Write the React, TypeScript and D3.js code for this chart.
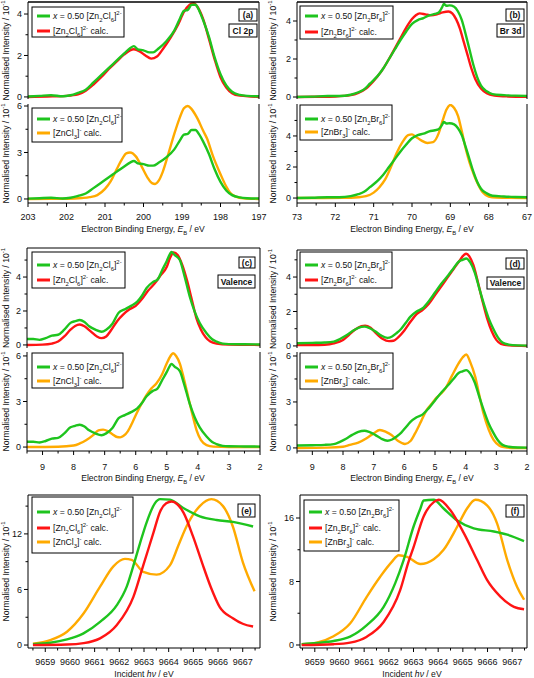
import React from 'react';
import * as d3 from 'd3';

type Pt = [number, number];
type Part = [string, string];

// ---------- DATA ----------
const clExp: Pt[] = [[203.0,0.02],[202.7,0.05],[202.4,0.08],[202.1,0.03],[201.9,0.08],[201.7,0.2],[201.5,0.35],[201.3,0.7],[201.1,1.05],[200.9,1.4],[200.7,1.75],[200.5,2.1],[200.35,2.35],[200.25,2.45],[200.15,2.3],[200.0,2.25],[199.85,2.15],[199.75,2.15],[199.6,2.35],[199.4,2.7],[199.2,3.2],[199.05,3.8],[198.95,4.15],[198.85,4.2],[198.75,4.45],[198.65,4.45],[198.55,4.15],[198.45,3.7],[198.3,2.9],[198.15,1.9],[198.0,1.1],[197.85,0.55],[197.7,0.25],[197.5,0.1],[197.3,0.05],[197.0,0.03]];
const clDimer: Pt[] = [[203,0],[202.5,0.02],[202,0.05],[201.7,0.12],[201.5,0.3],[201.3,0.6],[201.1,0.95],[200.9,1.35],[200.7,1.7],[200.5,2.05],[200.35,2.25],[200.25,2.3],[200.1,2.2],[199.95,2.0],[199.8,1.85],[199.65,1.95],[199.5,2.3],[199.3,2.85],[199.1,3.5],[198.95,4.1],[198.8,4.45],[198.7,4.52],[198.6,4.35],[198.45,3.75],[198.3,2.8],[198.15,1.8],[198.0,0.95],[197.85,0.45],[197.7,0.18],[197.5,0.06],[197.2,0.02],[197,0]];
const clMono: Pt[] = [[203,0],[202.0,0.01],[201.6,0.06],[201.4,0.12],[201.2,0.25],[201.0,0.65],[200.85,1.15],[200.7,1.9],[200.55,2.6],[200.45,2.95],[200.35,3.0],[200.2,2.75],[200.05,2.1],[199.9,1.4],[199.78,1.02],[199.7,0.97],[199.6,1.2],[199.5,1.75],[199.35,2.95],[199.2,4.2],[199.05,5.3],[198.95,5.85],[198.85,6.0],[198.75,5.8],[198.6,5.2],[198.45,4.4],[198.35,3.9],[198.2,2.8],[198.0,1.6],[197.85,0.8],[197.75,0.4],[197.6,0.15],[197.4,0.04],[197,0]];

const brExp: Pt[] = [[73,0.0],[72.6,0.02],[72.2,0.05],[71.9,0.05],[71.6,0.12],[71.4,0.25],[71.25,0.4],[71.1,0.7],[70.9,1.1],[70.75,1.5],[70.6,2.0],[70.45,2.5],[70.3,3.0],[70.15,3.45],[70.0,3.85],[69.85,4.05],[69.7,4.15],[69.55,4.3],[69.4,4.37],[69.3,4.45],[69.22,4.7],[69.17,4.9],[69.1,4.8],[69.02,4.82],[68.9,4.75],[68.8,4.5],[68.7,4.05],[68.6,3.3],[68.5,2.5],[68.4,1.7],[68.3,1.05],[68.2,0.6],[68.05,0.3],[67.9,0.15],[67.6,0.1],[67.3,0.07],[67,0.05]];
const brDimer: Pt[] = [[73,0],[72.5,0.01],[72,0.03],[71.6,0.1],[71.4,0.22],[71.2,0.45],[71.0,0.85],[70.8,1.35],[70.6,2.0],[70.45,2.55],[70.3,3.1],[70.15,3.65],[70.0,4.1],[69.9,4.3],[69.8,4.4],[69.65,4.35],[69.5,4.3],[69.35,4.35],[69.2,4.45],[69.05,4.5],[68.95,4.4],[68.85,4.1],[68.75,3.6],[68.65,2.9],[68.55,2.2],[68.45,1.5],[68.35,0.95],[68.2,0.45],[68.05,0.2],[67.85,0.08],[67.5,0.03],[67,0.01]];
const brMono: Pt[] = [[73,0],[71.8,0.01],[71.4,0.05],[71.2,0.12],[71.0,0.35],[70.85,0.7],[70.7,1.2],[70.55,2.0],[70.4,2.9],[70.25,3.6],[70.1,4.05],[70.0,4.1],[69.9,3.95],[69.75,3.7],[69.6,3.55],[69.45,3.6],[69.3,4.2],[69.2,5.0],[69.1,5.7],[69.0,6.0],[68.9,5.8],[68.8,5.3],[68.7,4.3],[68.6,3.2],[68.5,2.3],[68.4,1.6],[68.3,1.0],[68.15,0.35],[68.0,0.1],[67.8,0.03],[67,0]];

const vClExp: Pt[] = [[9.5,0.35],[9.3,0.35],[9.1,0.3],[8.9,0.4],[8.7,0.55],[8.5,0.6],[8.3,0.9],[8.1,1.3],[7.95,1.4],[7.8,1.47],[7.65,1.35],[7.5,1.1],[7.3,0.9],[7.1,0.78],[6.95,0.9],[6.75,1.25],[6.55,1.9],[6.35,2.1],[6.15,2.3],[5.95,2.55],[5.8,2.9],[5.65,3.35],[5.45,3.7],[5.3,3.85],[5.15,4.4],[5.0,4.95],[4.9,5.35],[4.85,5.48],[4.75,5.3],[4.58,5.0],[4.45,4.2],[4.26,2.84],[4.1,1.95],[3.94,1.29],[3.72,0.69],[3.55,0.35],[3.4,0.2],[3.2,0.08],[3.0,0.05],[2.5,0.04],[2.0,0.03]];
const vClDimer: Pt[] = [[9.5,0.0],[9.0,0.02],[8.7,0.08],[8.5,0.2],[8.3,0.5],[8.1,0.9],[7.95,1.12],[7.8,1.2],[7.65,1.1],[7.45,0.8],[7.25,0.5],[7.1,0.4],[6.95,0.5],[6.8,0.85],[6.6,1.4],[6.4,1.8],[6.2,2.1],[6.0,2.3],[5.8,2.7],[5.6,3.2],[5.4,3.6],[5.2,4.1],[5.0,4.6],[4.9,5.1],[4.78,5.45],[4.65,5.3],[4.5,4.7],[4.35,3.8],[4.2,2.7],[4.05,1.6],[3.9,0.9],[3.75,0.45],[3.6,0.2],[3.4,0.08],[3.0,0.02],[2,0]];
const vClMono: Pt[] = [[9.5,0],[8.5,0.02],[8.0,0.1],[7.8,0.24],[7.6,0.45],[7.37,0.79],[7.2,1.1],[7.05,1.15],[6.9,1.05],[6.75,0.85],[6.6,0.66],[6.5,0.64],[6.4,0.72],[6.25,1.05],[6.1,1.65],[5.97,2.22],[5.8,2.9],[5.65,3.43],[5.5,3.85],[5.33,4.2],[5.15,4.8],[5.0,5.52],[4.88,6.0],[4.8,6.18],[4.7,6.0],[4.58,5.5],[4.45,4.5],[4.31,3.3],[4.17,2.1],[4.04,1.1],[3.9,0.45],[3.72,0.13],[3.5,0.03],[3.0,0],[2,0]];

const vBrExp: Pt[] = [[9.5,0.16],[9.0,0.18],[8.6,0.2],[8.3,0.25],[8.1,0.4],[7.9,0.6],[7.7,0.85],[7.5,1.05],[7.3,1.12],[7.15,1.05],[6.95,0.85],[6.75,0.6],[6.55,0.47],[6.4,0.55],[6.25,0.75],[6.1,1.0],[5.95,1.35],[5.8,1.7],[5.6,2.0],[5.4,2.19],[5.2,2.6],[5.0,3.1],[4.8,3.6],[4.56,4.12],[4.4,4.5],[4.23,4.89],[4.1,5.0],[3.98,5.08],[3.85,4.85],[3.7,4.25],[3.55,3.3],[3.4,2.4],[3.25,1.6],[3.1,1.0],[2.95,0.5],[2.8,0.2],[2.6,0.08],[2.3,0.03],[2,0.02]];
const vBrDimer: Pt[] = [[9.5,0.05],[9.0,0.05],[8.6,0.07],[8.3,0.15],[8.0,0.35],[7.8,0.65],[7.6,0.95],[7.4,1.15],[7.28,1.18],[7.1,1.05],[6.9,0.7],[6.7,0.4],[6.5,0.28],[6.35,0.3],[6.2,0.5],[6.0,0.9],[5.8,1.4],[5.6,1.85],[5.4,2.1],[5.2,2.45],[5.0,2.95],[4.8,3.45],[4.6,3.95],[4.4,4.45],[4.2,4.95],[4.05,5.3],[3.98,5.35],[3.88,5.2],[3.75,4.7],[3.6,3.7],[3.45,2.6],[3.3,1.6],[3.15,0.85],[3.0,0.35],[2.85,0.12],[2.6,0.03],[2,0]];
const vBrMono: Pt[] = [[9.5,0],[8.5,0.02],[8.0,0.08],[7.78,0.2],[7.5,0.35],[7.23,0.63],[7.0,0.95],[6.8,1.17],[6.6,1.05],[6.42,0.85],[6.2,0.45],[5.98,0.26],[5.8,0.45],[5.65,0.95],[5.45,1.75],[5.27,2.48],[5.1,2.9],[4.94,3.3],[4.8,3.55],[4.67,3.85],[4.45,4.7],[4.23,5.52],[4.1,5.9],[3.98,6.1],[3.85,5.6],[3.69,4.65],[3.55,3.4],[3.42,2.26],[3.25,1.2],[3.09,0.52],[2.9,0.15],[2.76,0.05],[2.5,0],[2,0]];

const kClExp: Pt[] = [[9658.5,0.1],[9659.2,0.25],[9659.88,0.61],[9660.55,1.26],[9661.22,2.5],[9661.9,4.3],[9662.3,6.3],[9662.64,9.2],[9662.84,11.0],[9663.1,13.2],[9663.44,15.3],[9663.65,15.75],[9664.05,15.7],[9664.59,14.8],[9665.26,13.9],[9665.94,13.5],[9666.6,13.3],[9667.42,12.8]];
const kClDimer: Pt[] = [[9658.5,0.0],[9659.88,0.05],[9660.55,0.2],[9661.22,0.72],[9661.9,2.16],[9662.57,5.2],[9662.97,8.6],[9663.38,12.1],[9663.65,14.4],[9663.9,15.3],[9664.12,15.5],[9664.35,15.2],[9664.6,14.3],[9664.99,11.7],[9665.35,8.9],[9665.7,6.3],[9666.07,4.1],[9666.6,2.9],[9667.0,2.3],[9667.42,2.0]];
const kClMono: Pt[] = [[9658.5,0.15],[9659.2,0.54],[9659.88,1.44],[9660.55,3.4],[9661.22,6.3],[9661.76,8.5],[9662.23,9.3],[9662.5,9.2],[9662.97,7.9],[9663.51,7.6],[9664.05,8.6],[9664.4,10.8],[9664.72,12.8],[9665.26,15.0],[9665.73,15.75],[9666.2,15.0],[9666.6,12.8],[9667.01,8.9],[9667.48,5.8]];

const kBrExp: Pt[] = [[9658.47,0.1],[9659.1,0.25],[9659.76,0.5],[9660.43,1.05],[9661.11,2.5],[9661.79,4.8],[9662.26,7.8],[9662.6,10.7],[9663.0,14.9],[9663.28,17.2],[9663.41,18.2],[9663.82,18.3],[9664.22,17.2],[9664.77,15.7],[9665.44,14.7],[9666.26,14.3],[9666.8,13.9],[9667.48,13.1]];
const kBrDimer: Pt[] = [[9658.47,0.0],[9659.76,0.1],[9660.43,0.3],[9661.11,1.05],[9661.79,2.9],[9662.46,6.9],[9662.8,10.5],[9663.0,12.3],[9663.41,16.2],[9663.82,18.0],[9664.02,18.3],[9664.49,17.0],[9665.04,14.1],[9665.58,10.7],[9665.98,8.2],[9666.52,6.1],[9667.07,4.8],[9667.48,4.5]];
const kBrMono: Pt[] = [[9658.47,0.1],[9659.08,0.3],[9659.76,1.1],[9660.43,2.7],[9661.11,6.1],[9661.65,8.6],[9662.13,10.5],[9662.4,11.3],[9662.74,11.1],[9663.28,10.2],[9663.82,10.8],[9664.22,12.0],[9664.77,14.9],[9665.17,17.2],[9665.51,18.3],[9665.98,17.6],[9666.39,15.3],[9666.8,10.7],[9667.2,7.3],[9667.48,5.7]];

// tick values
const xTicksCl = [203, 202, 201, 200, 199, 198, 197];
const xTicksBr = [73, 72, 71, 70, 69, 68, 67];
const xTicksVal = [9, 8, 7, 6, 5, 4, 3, 2];
const xTicksK = [9659, 9660, 9661, 9662, 9663, 9664, 9665, 9666, 9667];

// legend labels
const lgExpCl: Part[] = [['x','i'],[' = 0.50 [Zn','n'],['2','sub'],['Cl','n'],['6','sub'],[']','n'],['2-','sup']];
const lgDimCl: Part[] = [['[Zn','n'],['2','sub'],['Cl','n'],['6','sub'],[']','n'],['2-','sup'],[' calc.','n']];
const lgMonCl: Part[] = [['[ZnCl','n'],['3','sub'],[']','n'],['-','sup'],[' calc.','n']];
const lgExpBr: Part[] = [['x','i'],[' = 0.50 [Zn','n'],['2','sub'],['Br','n'],['6','sub'],[']','n'],['2-','sup']];
const lgDimBr: Part[] = [['[Zn','n'],['2','sub'],['Br','n'],['6','sub'],[']','n'],['2-','sup'],[' calc.','n']];
const lgMonBr: Part[] = [['[ZnBr','n'],['3','sub'],[']','n'],['-','sup'],[' calc.','n']];
const yTitle: Part[] = [['Normalised Intensity / 10','n'],['-1','sup']];
const xTitleEB: Part[] = [['Electron Binding Energy, ','n'],['E','i'],['B','sub'],[' / eV','n']];
const xTitleK: Part[] = [['Incident ','n'],['hν','i'],[' / eV','n']];

const GREEN = '#1ec41e';
const RED = '#ff1414';
const ORANGE = '#ffaa00';
const FONT = 'Arial, "Liberation Sans", Helvetica, sans-serif';

function Rich({ x, y, parts, fs, anchor = 'start', transform, weight }: any) {
  let shift = 0;
  const kids = (parts as Part[]).map(([t, k], i) => {
    const target = k === 'sub' ? fs * 0.3 : k === 'sup' ? -fs * 0.42 : 0;
    const dy = target - shift;
    shift = target;
    const size = k === 'sub' || k === 'sup' ? fs * 0.68 : fs;
    return (
      <tspan key={i} dy={dy} fontSize={size} fontStyle={k === 'i' ? 'italic' : undefined}>{t}</tspan>
    );
  });
  return (
    <text x={x} y={y} fontSize={fs} textAnchor={anchor} transform={transform} fontFamily={FONT} fontWeight={weight} fill="#111">{kids}</text>
  );
}

function halfSteps(major: number[]) {
  const lo = Math.min(...major), hi = Math.max(...major);
  const out: number[] = [];
  for (let v = lo - 0.5; v <= hi + 0.5; v += 1) out.push(v);
  return out;
}

function Sub({ c, id }: any) {
  const xs = d3.scaleLinear().domain(c.xDom).range([c.x0, c.x1]);
  const ys = d3.scaleLinear().domain(c.yDom).range([c.yBot, c.yTop]);
  const line = d3.line<Pt>().x(d => xs(d[0])).y(d => ys(d[1])).curve(d3.curveMonotoneX);
  const xMinor = c.xAxis ? halfSteps(c.xAxis.major).filter((v: number) => {
    const p = xs(v); return p >= Math.min(c.x0, c.x1) - 0.5 && p <= Math.max(c.x0, c.x1) + 0.5;
  }) : [];
  const yMid = (c.yTop + c.yBot) / 2;
  return (
    <g>
      <defs>
        <clipPath id={id}><rect x={c.x0} y={c.yTop} width={c.x1 - c.x0} height={c.yBot - c.yTop} /></clipPath>
      </defs>
      <g clipPath={`url(#${id})`}>
        {c.series.map((s: any, i: number) => (
          <path key={i} d={line(s.data) || ''} fill="none" stroke={s.color} strokeWidth={2.4} strokeLinejoin="round" />
        ))}
      </g>
      <line x1={c.x0} x2={c.x0} y1={c.yTop} y2={c.yBot} stroke="#000" strokeWidth={1} />
      <line x1={c.x1} x2={c.x1} y1={c.yTop} y2={c.yBot} stroke="#000" strokeWidth={1} />
      {c.top && <line x1={c.x0} x2={c.x1} y1={c.yTop} y2={c.yTop} stroke="#000" strokeWidth={c.topW || 1} />}
      {c.yMajor.map((v: number) => (
        <g key={'ym' + v}>
          <line x1={c.x0 - 4} x2={c.x0} y1={ys(v)} y2={ys(v)} stroke="#000" />
          <text x={c.x0 - 6} y={ys(v) + 3.2} fontSize={9} textAnchor="end" fontFamily={FONT} fill="#111">{v}</text>
        </g>
      ))}
      {c.yMinor.map((v: number) => (
        <line key={'yn' + v} x1={c.x0 - 2.5} x2={c.x0} y1={ys(v)} y2={ys(v)} stroke="#000" />
      ))}
      <Rich x={c.yTitleX} y={yMid} parts={yTitle} fs={8.6} anchor="middle" transform={`rotate(-90 ${c.yTitleX} ${yMid})`} />
      {c.xAxis && (
        <g>
          <line x1={c.x0} x2={c.x1} y1={c.yBot} y2={c.yBot} stroke="#000" />
          {c.xAxis.major.map((v: number) => (
            <g key={'xm' + v}>
              <line x1={xs(v)} x2={xs(v)} y1={c.yBot} y2={c.yBot + 4} stroke="#000" />
              <text x={xs(v)} y={c.xAxis.labelY} fontSize={9} textAnchor="middle" fontFamily={FONT} fill="#111">{v}</text>
            </g>
          ))}
          {xMinor.map((v: number) => (
            <line key={'xn' + v} x1={xs(v)} x2={xs(v)} y1={c.yBot} y2={c.yBot + 2.5} stroke="#000" />
          ))}
          <Rich x={c.xAxis.titleX} y={c.xAxis.titleY} parts={c.xAxis.title} fs={8.6} anchor="middle" />
        </g>
      )}
      <rect x={c.legend.x} y={c.legend.y} width={c.legend.w} height={c.legend.h} fill="#fff" stroke="#000" strokeWidth={1} />
      {c.legend.rows.map((r: any, i: number) => (
        <g key={'lg' + i}>
          <line x1={c.legend.x + 5} x2={c.legend.x + 18} y1={r.y} y2={r.y} stroke={r.color} strokeWidth={3} />
          <Rich x={c.legend.x + 21} y={r.y + 3} parts={r.parts} fs={8.7} />
        </g>
      ))}
      {(c.tags || []).map((t: any, i: number) => (
        <g key={'tg' + i}>
          <rect x={t.x} y={t.y} width={t.w} height={t.h} fill="#fff" stroke="#000" strokeWidth={1} />
          <text x={t.x + t.w / 2} y={t.y + t.h / 2 + 3} fontSize={8.5} fontWeight="bold" textAnchor="middle" fontFamily={FONT} fill="#111">{t.text}</text>
        </g>
      ))}
    </g>
  );
}

export default function App() {
  const L = { x0: 28, x1: 259 };
  const R = { x0: 297, x1: 527 };
  const subs: any[] = [
    { ...L, yTop: 2, yBot: 99, xDom: [203, 197], yDom: [-0.1, 4.58], yMajor: [0, 2, 4], yMinor: [1, 3], top: true, topW: 1.5, yTitleX: 9,
      series: [{ data: clDimer, color: RED }, { data: clExp, color: GREEN }],
      legend: { x: 32, y: 7, w: 92, h: 30, rows: [{ y: 16, color: GREEN, parts: lgExpCl }, { y: 31, color: RED, parts: lgDimCl }] },
      tags: [{ x: 239, y: 9, w: 18, h: 12, text: '(a)' }, { x: 229, y: 24, w: 28, h: 13, text: 'Cl 2p' }] },
    { ...L, yTop: 104, yBot: 203, xDom: [203, 197], yDom: [-0.26, 6.13], yMajor: [0, 3, 6], yMinor: [1.5, 4.5], yTitleX: 9,
      series: [{ data: clMono, color: ORANGE }, { data: clExp, color: GREEN }],
      legend: { x: 32, y: 108, w: 90, h: 34, rows: [{ y: 119, color: GREEN, parts: lgExpCl }, { y: 133, color: ORANGE, parts: lgMonCl }] },
      xAxis: { major: xTicksCl, labelY: 220, title: xTitleEB, titleX: 143, titleY: 232 } },
    { ...R, yTop: 2, yBot: 99, xDom: [73, 67], yDom: [-0.105, 5.0], yMajor: [0, 2, 4], yMinor: [1, 3], top: true, topW: 1.5, yTitleX: 276,
      series: [{ data: brDimer, color: RED }, { data: brExp, color: GREEN }],
      legend: { x: 300, y: 6, w: 93, h: 33, rows: [{ y: 16, color: GREEN, parts: lgExpBr }, { y: 32, color: RED, parts: lgDimBr }] },
      tags: [{ x: 506, y: 9, w: 18, h: 12, text: '(b)' }, { x: 497, y: 24, w: 27, h: 13, text: 'Br 3d' }] },
    { ...R, yTop: 104, yBot: 203, xDom: [73, 67], yDom: [-0.32, 6.06], yMajor: [0, 2, 4], yMinor: [1, 3, 5], yTitleX: 276,
      series: [{ data: brMono, color: ORANGE }, { data: brExp, color: GREEN }],
      legend: { x: 300, y: 105, w: 92, h: 35, rows: [{ y: 119, color: GREEN, parts: lgExpBr }, { y: 132, color: ORANGE, parts: lgMonBr }] },
      xAxis: { major: xTicksBr, labelY: 220, title: xTitleEB, titleX: 412, titleY: 232 } },
    { x0: 27, x1: 260, yTop: 248, yBot: 348, xDom: [9.5, 2], yDom: [-0.18, 5.71], yMajor: [0, 2, 4], yMinor: [1, 3, 5], top: true, yTitleX: 9,
      series: [{ data: vClDimer, color: RED }, { data: vClExp, color: GREEN }],
      legend: { x: 32, y: 252, w: 93, h: 36, rows: [{ y: 265, color: GREEN, parts: lgExpCl }, { y: 280, color: RED, parts: lgDimCl }] },
      tags: [{ x: 239, y: 257, w: 16, h: 11, text: '(c)' }, { x: 218, y: 275, w: 37, h: 13, text: 'Valence' }] },
    { x0: 27, x1: 260, yTop: 352, yBot: 451, xDom: [9.5, 2], yDom: [-0.26, 6.26], yMajor: [0, 3, 6], yMinor: [1.5, 4.5], yTitleX: 9,
      series: [{ data: vClMono, color: ORANGE }, { data: vClExp, color: GREEN }],
      legend: { x: 32, y: 353, w: 91, h: 35, rows: [{ y: 367, color: GREEN, parts: lgExpCl }, { y: 381, color: ORANGE, parts: lgMonCl }] },
      xAxis: { major: xTicksVal, labelY: 470, title: xTitleEB, titleX: 143, titleY: 481 } },
    { ...R, yTop: 250, yBot: 348, xDom: [9.5, 2], yDom: [-0.12, 5.57], yMajor: [0, 2, 4], yMinor: [1, 3, 5], top: true, yTitleX: 276,
      series: [{ data: vBrDimer, color: RED }, { data: vBrExp, color: GREEN }],
      legend: { x: 300, y: 252, w: 92, h: 36, rows: [{ y: 265, color: GREEN, parts: lgExpBr }, { y: 280, color: RED, parts: lgDimBr }] },
      tags: [{ x: 506, y: 258, w: 18, h: 11, text: '(d)' }, { x: 487, y: 277, w: 37, h: 12, text: 'Valence' }] },
    { ...R, yTop: 352, yBot: 451, xDom: [9.5, 2], yDom: [-0.2, 6.26], yMajor: [0, 3, 6], yMinor: [1.5, 4.5], yTitleX: 276,
      series: [{ data: vBrMono, color: ORANGE }, { data: vBrExp, color: GREEN }],
      legend: { x: 300, y: 353, w: 93, h: 36, rows: [{ y: 367, color: GREEN, parts: lgExpBr }, { y: 381, color: ORANGE, parts: lgMonBr }] },
      xAxis: { major: xTicksVal, labelY: 470, title: xTitleEB, titleX: 412, titleY: 481 } },
    { x0: 28, x1: 260, yTop: 495, yBot: 648, xDom: [9658.3, 9667.7], yDom: [-0.32, 16.2], yMajor: [0, 6, 12], yMinor: [3, 9, 15], top: true, yTitleX: 9,
      series: [{ data: kClMono, color: ORANGE }, { data: kClExp, color: GREEN }, { data: kClDimer, color: RED }],
      legend: { x: 32, y: 497, w: 101, h: 56, rows: [{ y: 512, color: GREEN, parts: lgExpCl }, { y: 528, color: RED, parts: lgDimCl }, { y: 542, color: ORANGE, parts: lgMonCl }] },
      tags: [{ x: 238, y: 504, w: 17, h: 13, text: '(e)' }],
      xAxis: { major: xTicksK, labelY: 665, title: xTitleK, titleX: 144, titleY: 677 } },
    { x0: 300, x1: 527, yTop: 495, yBot: 648, xDom: [9658.4, 9667.6], yDom: [-0.38, 18.9], yMajor: [0, 8, 16], yMinor: [4, 12], top: true, yTitleX: 276,
      series: [{ data: kBrMono, color: ORANGE }, { data: kBrExp, color: GREEN }, { data: kBrDimer, color: RED }],
      legend: { x: 304, y: 500, w: 95, h: 51, rows: [{ y: 512, color: GREEN, parts: lgExpBr }, { y: 528, color: RED, parts: lgDimBr }, { y: 542, color: ORANGE, parts: lgMonBr }] },
      tags: [{ x: 506, y: 505, w: 18, h: 12, text: '(f)' }],
      xAxis: { major: xTicksK, labelY: 665, title: xTitleK, titleX: 412, titleY: 677 } },
  ];
  return (
    <svg width={534} height={678} style={{ position: 'absolute', left: 0, top: 0, background: '#fff' }}>
      <rect x={0} y={0} width={534} height={678} fill="#fff" />
      {subs.map((c, i) => <Sub key={i} c={c} id={'clip' + i} />)}
    </svg>
  );
}
